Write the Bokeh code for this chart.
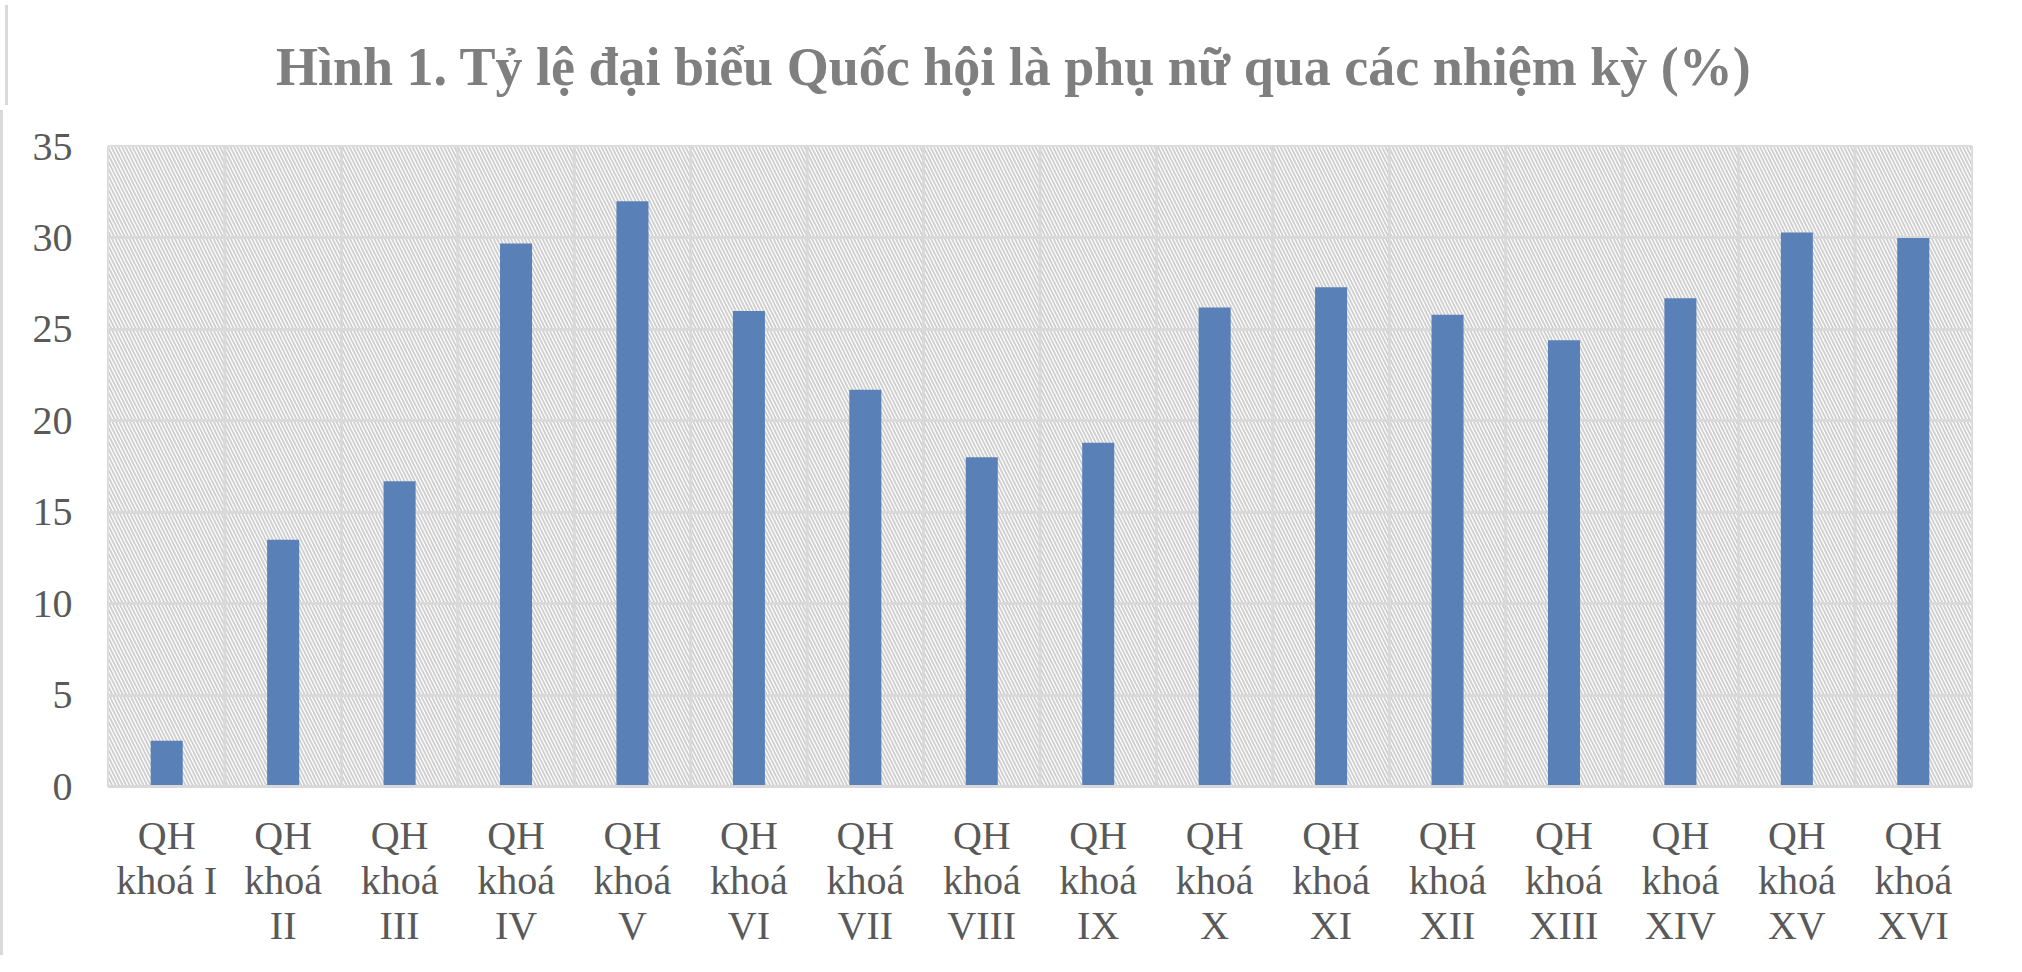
from bokeh.plotting import figure
from bokeh.models import FactorRange, Span, BoxAnnotation, FixedTicker, Div
from bokeh.layouts import column
from bokeh.embed import file_html
from bokeh.resources import INLINE

terms = ["I", "II", "III", "IV", "V", "VI", "VII", "VIII", "IX", "X",
         "XI", "XII", "XIII", "XIV", "XV", "XVI"]
labels = ["QH\nkhoá I"] + ["QH\nkhoá\n" + t for t in terms[1:]]
values = [2.5, 13.5, 16.7, 29.7, 32.0, 26.0, 21.7, 18.0, 18.8, 26.2,
          27.3, 25.8, 24.4, 26.7, 30.3, 30.0]
y_ticks = [0, 5, 10, 15, 20, 25, 30, 35]
title_text = "Hình 1. Tỷ lệ đại biểu Quốc hội là phụ nữ qua các nhiệm kỳ (%)"

FONT = "Liberation Serif"
GRID = "#d9d9d9"
BORDER = {"border-left": "3px solid #d9d9d9", "box-sizing": "border-box"}

title = Div(
    text=('<div style="padding-top:32px;padding-left:268px;'
          'font-family:\'Liberation Serif\';font-size:54px;font-weight:bold;'
          'line-height:60px;color:#7f7f7f;white-space:nowrap;">'
          + title_text + '</div>'),
    width=2006, height=100, styles=BORDER,
)

p = figure(
    width=2006, height=845,
    x_range=FactorRange(factors=labels, range_padding=0),
    y_range=(0, 35),
    output_backend="svg", toolbar_location=None,
    min_border_left=105, min_border_right=38,
    min_border_top=36, min_border_bottom=169,
)

# hatched plot-area background
p.add_layout(BoxAnnotation(level="image", fill_color="white", fill_alpha=1,
                           line_color=None, hatch_pattern="left_diagonal_line",
                           hatch_color="#cfcfcf", hatch_scale=7, hatch_weight=1.9))

# vertical grid lines at category boundaries
for k in range(1, len(labels)):
    p.add_layout(Span(location=k, dimension="height", line_color=GRID,
                      line_width=3, level="underlay"))

p.vbar(x=labels, top=values, width=0.275, color="#5980b7", line_color=None)

p.xgrid.grid_line_color = None
p.ygrid.grid_line_color = GRID
p.ygrid.grid_line_width = 3
p.yaxis.ticker = FixedTicker(ticks=y_ticks)

p.outline_line_color = GRID
p.outline_line_width = 3

for ax in (p.xaxis[0], p.yaxis[0]):
    ax.major_tick_line_color = None
    ax.minor_tick_line_color = None
    ax.major_label_text_font = FONT
    ax.major_label_text_font_size = "40px"
    ax.major_label_text_color = "#595959"

p.yaxis.axis_line_color = None
p.yaxis.major_label_standoff = 30
p.xaxis.axis_line_color = GRID
p.xaxis.axis_line_width = 3
p.xaxis.major_label_standoff = 20
p.xaxis.major_label_text_line_height = 1.0
p.xaxis.major_label_orientation = "horizontal"

p.background_fill_color = "white"
p.border_fill_color = "white"
p.styles = BORDER

layout = column(title, p, spacing=0)

open("out.html", "w").write(file_html(layout, INLINE))
